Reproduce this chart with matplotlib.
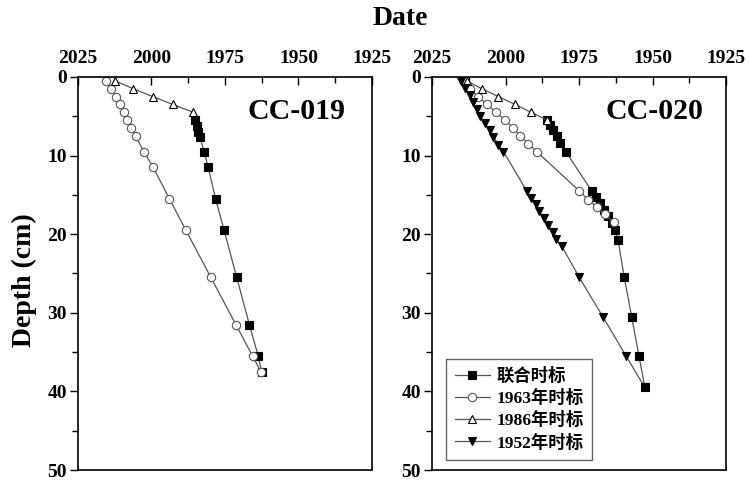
import matplotlib
matplotlib.use("Agg")
import matplotlib.pyplot as plt
from matplotlib.ticker import MultipleLocator

plt.rcParams['font.family'] = ['Liberation Serif', 'Noto Sans CJK SC']
plt.rcParams['font.weight'] = 'bold'

# CC-019
c19_tri_date = [2012.4, 2006.2, 1999.6, 1992.8, 1985.8]
c19_tri_depth = [0.5, 1.5, 2.5, 3.5, 4.5]
c19_sq_date = [1985.8, 1985.2, 1984.6, 1984.1, 1983.5, 1982.1, 1980.7, 1978.2,
               1975.3, 1971.0, 1966.7, 1963.7, 1962.5]
c19_sq_depth = [4.5, 5.5, 6.3, 7.0, 7.7, 9.5, 11.5, 15.5, 19.5, 25.5, 31.5, 35.5, 37.5]
c19_ci_date = [2015.5, 2013.6, 2012.1, 2010.7, 2009.5, 2008.2, 2007.0, 2005.4,
               2002.6, 1999.4, 1993.9, 1988.3, 1979.8, 1971.3, 1965.6, 1962.8]
c19_ci_depth = [0.5, 1.5, 2.5, 3.5, 4.5, 5.5, 6.5, 7.5, 9.5, 11.5, 15.5, 19.5,
                25.5, 31.5, 35.5, 37.5]

# CC-020
c20_tri_date = [2013.2, 2008.1, 2002.4, 1996.8, 1991.3, 1985.8]
c20_tri_depth = [0.5, 1.5, 2.5, 3.5, 4.5, 5.5]
c20_sq_date = [1985.8, 1984.9, 1983.7, 1982.6, 1981.5, 1979.5,
               1970.7, 1969.3, 1967.9, 1966.4, 1965.0, 1963.8, 1962.6, 1961.7,
               1959.6, 1957.1, 1954.6, 1952.6]
c20_sq_depth = [5.5, 6.1, 6.8, 7.5, 8.4, 9.5,
                14.5, 15.3, 16.1, 16.9, 17.7, 18.6, 19.5, 20.8,
                25.5, 30.5, 35.5, 39.5]
c20_ci_date = [2012.1, 2009.3, 2006.4, 2003.2, 2000.2, 1997.3, 1995.1, 1992.2,
               1989.4, 1974.9, 1972.0, 1969.0, 1966.2, 1963.1]
c20_ci_depth = [1.5, 2.5, 3.5, 4.5, 5.5, 6.5, 7.5, 8.5, 9.5,
                14.5, 15.6, 16.5, 17.5, 18.5]
c20_inv_date = [2015.2, 2013.8, 2012.1, 2011.0, 2009.8, 2008.7, 2007.0, 2005.3,
                2004.1, 2002.4, 2000.7,
                1992.8, 1991.3, 1989.6, 1988.5, 1986.8, 1985.7, 1984.0, 1982.8, 1980.9,
                1974.9, 1966.9, 1959.0, 1952.6]
c20_inv_depth = [0.5, 1.4, 2.3, 3.2, 4.1, 5.0, 5.9, 6.8, 7.7, 8.6, 9.5,
                 14.5, 15.4, 16.2, 17.1, 18.0, 18.8, 19.7, 20.6, 21.5,
                 25.5, 30.5, 35.5, 39.5]

labels = ['联合时标', '1963年时标', '1986年时标', '1952年时标']
xticks = [2025, 2000, 1975, 1950, 1925]
yticks = [0, 10, 20, 30, 40, 50]

fig = plt.figure(figsize=(7.49, 4.80), dpi=100)
ax1 = fig.add_axes([0.1041, 0.0208, 0.3925, 0.819])
ax2 = fig.add_axes([0.5768, 0.0208, 0.3925, 0.819])

lc = '#555555'
kw = dict(color=lc, lw=0.9, markersize=6, markeredgewidth=0.8)

def style(ax, name, nx):
    ax.set_xlim(2025, 1925)
    ax.set_ylim(50, 0)
    ax.xaxis.tick_top()
    ax.set_xticks(xticks)
    ax.set_yticks(yticks)
    ax.xaxis.set_minor_locator(MultipleLocator(12.5))
    ax.yaxis.set_minor_locator(MultipleLocator(5))
    ax.tick_params(axis='x', which='both', direction='in', labelsize=14, pad=7)
    ax.tick_params(axis='x', which='major', length=6, width=1)
    ax.tick_params(axis='x', which='minor', length=4, width=1)
    ax.tick_params(axis='y', which='both', direction='out', labelsize=14, pad=2)
    ax.tick_params(axis='y', which='major', length=6, width=1)
    ax.tick_params(axis='y', which='minor', length=4, width=1)
    for lab in ax.get_xticklabels() + ax.get_yticklabels():
        lab.set_fontweight('bold')
    for s in ax.spines.values():
        s.set_linewidth(1.2)
    ax.text(nx, 0.913, name, transform=ax.transAxes, fontsize=21.5,
            fontweight='bold', ha='center', va='center')

ax1.plot(c19_sq_date, c19_sq_depth, marker='s', mfc='black', mec='black',
         markevery=slice(1, None), **kw)
ax1.plot(c19_ci_date, c19_ci_depth, marker='o', mfc='white', mec=lc, **kw)
ax1.plot(c19_tri_date, c19_tri_depth, marker='^', mfc='white', mec='black', **kw)
style(ax1, 'CC-019', 0.745)
ax1.set_ylabel('Depth (cm)', fontsize=20, fontweight='bold')
ax1.yaxis.set_label_coords(-0.14, (470 - 280) / 393)

h_sq, = ax2.plot(c20_sq_date, c20_sq_depth, marker='s', mfc='black', mec='black', **kw)
h_ci, = ax2.plot(c20_ci_date, c20_ci_depth, marker='o', mfc='white', mec=lc, **kw)
h_tri, = ax2.plot(c20_tri_date, c20_tri_depth, marker='^', mfc='white', mec='black', **kw)
h_inv, = ax2.plot(c20_inv_date, c20_inv_depth, marker='v', mfc='black', mec='black', **kw)
style(ax2, 'CC-020', 0.758)

leg = ax2.legend([h_sq, h_ci, h_tri, h_inv], labels, loc='lower left',
                 bbox_to_anchor=(0.048, 0.025), borderaxespad=0,
                 prop={'size': 12.5, 'weight': 'bold'},
                 fancybox=False, edgecolor='#666666', framealpha=1,
                 handlelength=2.0, handletextpad=0.4, labelspacing=0.3,
                 borderpad=0.5)
leg.get_frame().set_linewidth(1.0)

fig.text(0.535, 0.962, 'Date', fontsize=20, fontweight='bold', ha='center', va='center')

fig.savefig('out.png', dpi=100)
